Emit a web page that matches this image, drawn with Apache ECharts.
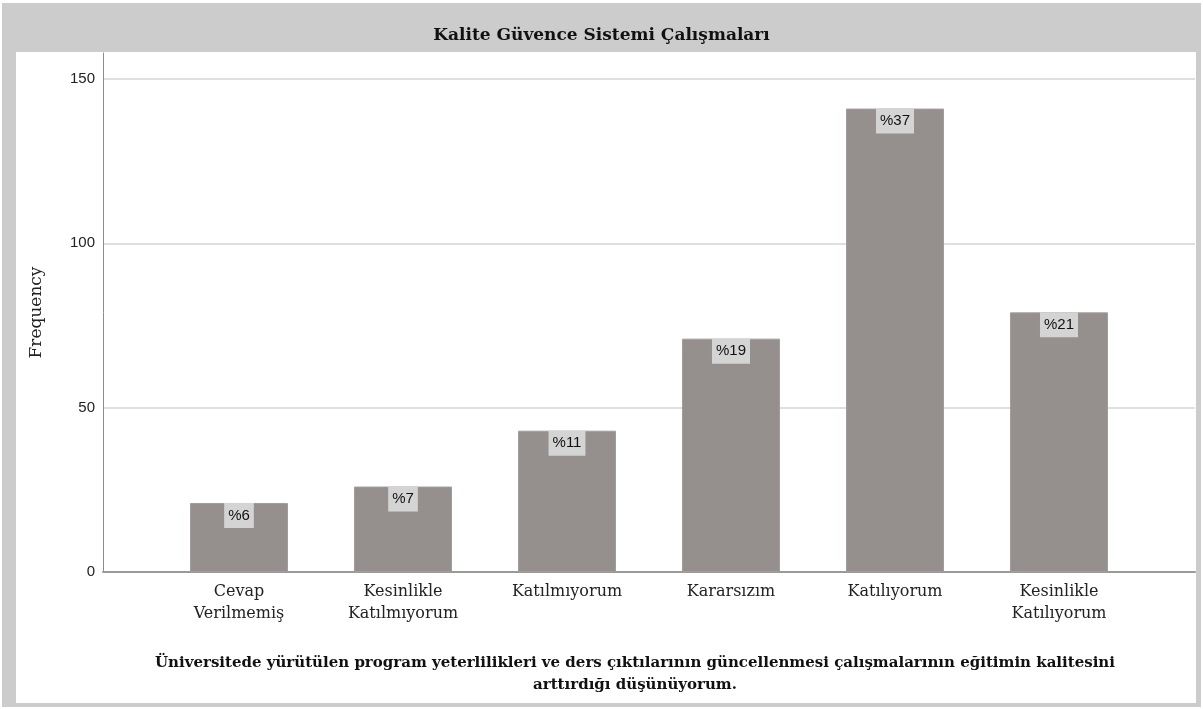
<!DOCTYPE html>
<html>
<head>
<meta charset="utf-8">
<script src="https://cdn.jsdelivr.net/npm/echarts@6/dist/echarts.min.js"></script>
<style>
html, body { margin: 0; padding: 0; background: #ffffff; }
#chart { width: 1203px; height: 709px; }
</style>
</head>
<body>
<div id="chart"></div>
<script>
// Response categories (x axis)
const categories = [
  'Cevap\nVerilmemiş',
  'Kesinlikle\nKatılmıyorum',
  'Katılmıyorum',
  'Kararsızım',
  'Katılıyorum',
  'Kesinlikle\nKatılıyorum'
];
// Number of respondents per answer
const frequencies = [21, 26, 43, 71, 141, 79];
// Share of respondents, shown on each bar
const percentLabels = ['%6', '%7', '%11', '%19', '%37', '%21'];
// Frequency axis
const yMin = 0;
const yMax = 150;
const yStep = 50;

const chartTitle = 'Kalite Güvence Sistemi Çalışmaları';
const questionText = 'Üniversitede yürütülen program yeterlilikleri ve ders çıktılarının güncellenmesi çalışmalarının eğitimin kalitesini\narttırdığı düşünüyorum.';

const serif = '"DejaVu Serif", "Liberation Serif", serif';
const sans = '"Liberation Sans", Arial, sans-serif';

const chart = echarts.init(document.getElementById('chart'), null, { renderer: 'canvas' });

chart.setOption({
  animation: false,
  backgroundColor: '#ffffff',
  title: {
    text: chartTitle,
    left: 'center',
    top: 22,
    textStyle: { fontFamily: serif, fontWeight: 'bold', fontSize: 17, color: '#111' }
  },
  graphic: [
    { type: 'rect', z: -10, shape: { x: 2, y: 3, width: 1199, height: 704 }, style: { fill: '#cccccc' } },
    { type: 'rect', z: -9, shape: { x: 16, y: 52, width: 1180, height: 651 }, style: { fill: '#ffffff' } },
    {
      type: 'text', z: 5, x: 635, y: 652,
      style: {
        text: questionText,
        textAlign: 'center',
        font: 'bold 15px ' + serif,
        lineHeight: 22,
        fill: '#111'
      }
    }
  ],
  grid: [
    // frame with gridlines and tick labels
    { left: 103, right: 8, top: 79, bottom: 137, containLabel: false },
    // full-height frequency axis line
    { left: 103, right: 8, top: 53, bottom: 137, containLabel: false },
    // bar area
    { left: 157, right: 62, top: 79, bottom: 137, containLabel: false }
  ],
  xAxis: [
    {
      gridIndex: 0, type: 'category', data: [''],
      axisLine: { show: true, lineStyle: { color: '#9a9a9a', width: 2 } },
      axisTick: { show: false }, axisLabel: { show: false }, splitLine: { show: false }
    },
    {
      gridIndex: 1, type: 'category', data: [''], show: false
    },
    {
      gridIndex: 2, type: 'category', data: categories,
      axisLine: { show: false }, axisTick: { show: false },
      axisLabel: {
        margin: 9, fontFamily: serif, fontSize: 16, lineHeight: 22, color: '#222', interval: 0
      }
    }
  ],
  yAxis: [
    {
      gridIndex: 0, type: 'value', min: yMin, max: yMax, interval: yStep,
      axisLine: { show: false }, axisTick: { show: false },
      axisLabel: { margin: 8, fontFamily: sans, fontSize: 15, color: '#222' },
      splitLine: { show: true, lineStyle: { color: '#d6d6d6', width: 1.5 } }
    },
    {
      gridIndex: 1, type: 'value', min: 0, max: 1,
      name: 'Frequency', nameLocation: 'middle', nameGap: 58, nameRotate: 90,
      nameTextStyle: { fontFamily: serif, fontSize: 17, color: '#222' },
      axisLine: { show: true, lineStyle: { color: '#8c8c8c', width: 1 } },
      axisTick: { show: false }, axisLabel: { show: false }, splitLine: { show: false }
    },
    {
      gridIndex: 2, type: 'value', min: yMin, max: yMax, interval: yStep, show: false
    }
  ],
  series: [
    {
      type: 'bar',
      xAxisIndex: 2, yAxisIndex: 2,
      data: frequencies,
      barWidth: 98,
      itemStyle: { color: '#958f8e', borderColor: '#a29d9c', borderWidth: 1 },
      label: {
        show: true,
        position: 'insideTop',
        distance: 0,
        formatter: (p) => percentLabels[p.dataIndex],
        fontFamily: sans, fontSize: 15, color: '#111',
        backgroundColor: '#d4d4d4',
        padding: [5, 4, 5, 4]
      },
      z: 3
    }
  ]
});
</script>
</body>
</html>
